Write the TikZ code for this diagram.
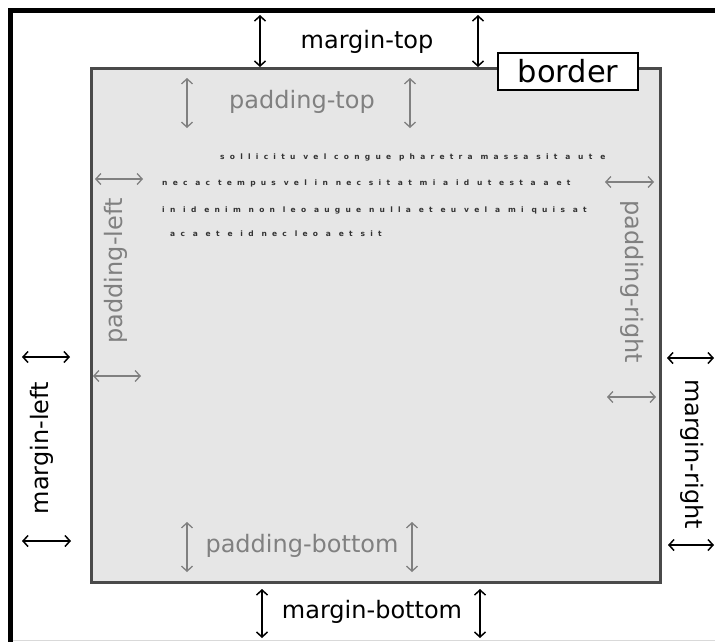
\documentclass[tikz,border=0pt]{standalone}
\usepackage{fontspec}
\setmainfont{DejaVu Sans}
\usetikzlibrary{arrows.meta}
\definecolor{boxfill}{HTML}{E6E6E6}
\definecolor{boxline}{HTML}{4A4A4A}
\definecolor{padgray}{HTML}{808080}
\begin{document}
\begin{tikzpicture}[x=1pt,y=-1pt,
  lbl/.style={font=\fontsize{24}{28}\selectfont, inner sep=0pt},
  marg/.style={lbl, text=black},
  padl/.style={lbl, text=padgray},
  marrow/.style={draw=black, line width=1.5pt, {Straight Barb[length=5pt,width=11pt]}-{Straight Barb[length=5pt,width=11pt]}},
  parrow/.style={draw=padgray, line width=1.3pt, {Straight Barb[length=5pt,width=11pt]}-{Straight Barb[length=5pt,width=11pt]}},
  dots/.style={font=\fontsize{7.5}{9}\selectfont\bfseries\addfontfeature{LetterSpace=70}, text=black!80, inner sep=0pt, anchor=west}
]
\useasboundingbox (0,0) rectangle (715,641);
% outer frame
\draw[line width=5pt, line cap=rect] (10,641) -- (10,10) -- (715,10);
\draw[black!15, line width=0.8pt] (13,640) -- (715,640);
% element box
\node[draw=boxline, fill=boxfill, line width=3pt, minimum width=569pt, minimum height=514pt, inner sep=0pt] (box) at (375.5,325) {};
% border label
\node[draw=black, fill=white, line width=2pt, minimum width=140pt, minimum height=37pt, inner sep=0pt, font=\fontsize{30.5}{34}\selectfont] (border) at (568,71.5) {border};
% content text
\node[dots] (t1) at (220,157) {sollicitu vel congue pharetra massa sit a ut e};
\node[dots] (t2) at (162,183) {nec ac tempus vel in nec sit at mi a id ut est a a et};
\node[dots] (t3) at (162,210) {in id enim non leo augue nulla et eu vel a mi quis at};
\node[dots] (t4) at (170,234) {ac a et e id nec leo a et sit};
% margin-top
\coordinate (mt1a) at (260,15); \coordinate (mt1b) at (260,67);
\coordinate (mt2a) at (478,15); \coordinate (mt2b) at (478,67);
\draw[marrow] (mt1a) -- (mt1b);
\draw[marrow] (mt2a) -- (mt2b);
\node[marg] (mtl) at (367,42) {margin-top};
% padding-top
\coordinate (pt1a) at (187,78); \coordinate (pt1b) at (187,128);
\coordinate (pt2a) at (410,78); \coordinate (pt2b) at (410,128);
\draw[parrow] (pt1a) -- (pt1b);
\draw[parrow] (pt2a) -- (pt2b);
\node[padl] (ptl) at (302,102) {padding-top};
% padding-bottom
\coordinate (pb1a) at (187,522); \coordinate (pb1b) at (187,572);
\coordinate (pb2a) at (412,522); \coordinate (pb2b) at (412,572);
\draw[parrow] (pb1a) -- (pb1b);
\draw[parrow] (pb2a) -- (pb2b);
\node[padl] (pbl) at (302,546) {padding-bottom};
% margin-bottom
\coordinate (mb1a) at (262,589); \coordinate (mb1b) at (262,638);
\coordinate (mb2a) at (480,589); \coordinate (mb2b) at (480,638);
\draw[marrow] (mb1a) -- (mb1b);
\draw[marrow] (mb2a) -- (mb2b);
\node[marg] (mbl) at (372,612) {margin-bottom};
% padding-left
\coordinate (pl1a) at (95,179); \coordinate (pl1b) at (143,179);
\coordinate (pl2a) at (93,376); \coordinate (pl2b) at (141,376);
\draw[parrow] (pl1a) -- (pl1b);
\draw[parrow] (pl2a) -- (pl2b);
\node[padl, rotate=90] (pll) at (116,271) {padding-left};
% padding-right
\coordinate (pr1a) at (605,182); \coordinate (pr1b) at (654,182);
\coordinate (pr2a) at (607,397); \coordinate (pr2b) at (656,397);
\draw[parrow] (pr1a) -- (pr1b);
\draw[parrow] (pr2a) -- (pr2b);
\node[padl, rotate=-90] (prl) at (632,282) {padding-right};
% margin-left
\coordinate (ml1a) at (22,357); \coordinate (ml1b) at (70,357);
\coordinate (ml2a) at (22,541); \coordinate (ml2b) at (71,541);
\draw[marrow] (ml1a) -- (ml1b);
\draw[marrow] (ml2a) -- (ml2b);
\node[marg, rotate=90] (mll) at (42,448) {margin-left};
% margin-right
\coordinate (mr1a) at (667,358); \coordinate (mr1b) at (714,358);
\coordinate (mr2a) at (668,545); \coordinate (mr2b) at (714,545);
\draw[marrow] (mr1a) -- (mr1b);
\draw[marrow] (mr2a) -- (mr2b);
\node[marg, rotate=-90] (mrl) at (692,454) {margin-right};
\end{tikzpicture}
\end{document}
